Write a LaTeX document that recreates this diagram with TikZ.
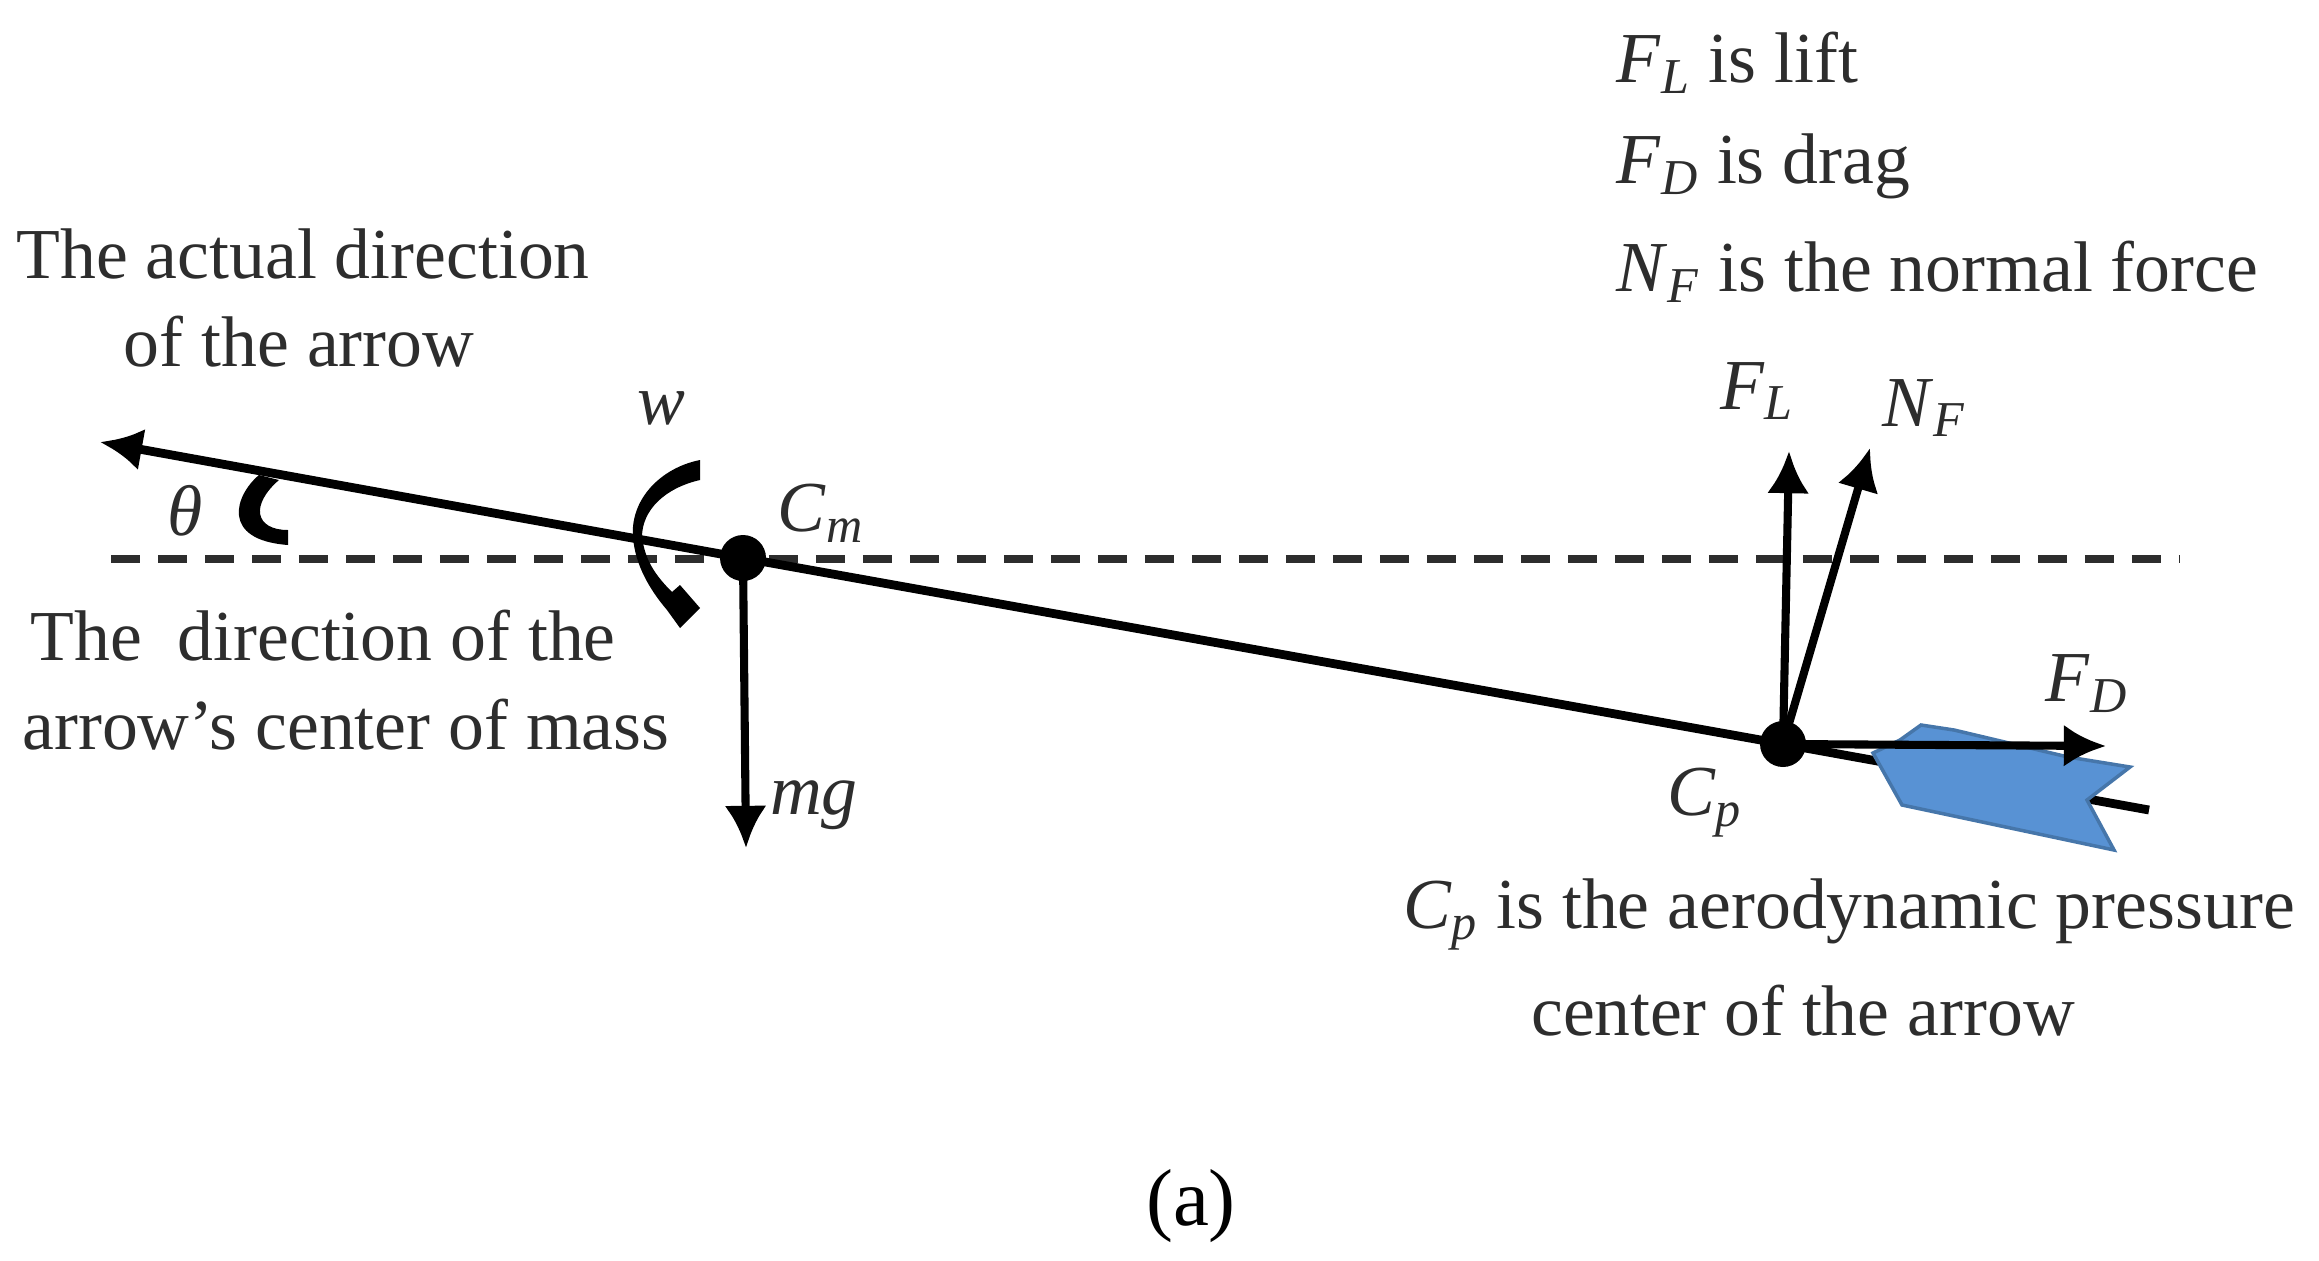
\documentclass[tikz,border=0pt]{standalone}
\usepackage{fontspec}
\setmainfont{Liberation Serif}
\usetikzlibrary{arrows.meta}
\definecolor{fletchblue}{RGB}{88, 146, 212}
\definecolor{fletchedge}{RGB}{70, 118, 170}
\definecolor{inkgray}{RGB}{45, 45, 45}
\newcommand{\symb}[2]{\textit{#1}\textsubscript{\textit{#2}}}
\tikzset{
    label text/.style={text=inkgray, font=\fontsize{20.4}{24}\selectfont, inner sep=0pt},
    force line/.style={line width=2.3pt, -{Latex[length=12pt, width=12pt]}},
    shaft line/.style={line width=2.5pt},
    apply point/.style={circle, fill=black, minimum size=0.46cm, inner sep=0pt}
}
\begin{document}
\begin{tikzpicture}
    \useasboundingbox (0,0) rectangle (23.19,12.60);
    \coordinate (tip)  at ( 1.00, 8.18);
    \coordinate (tail) at (21.49, 4.50);
    \coordinate (dashL) at ( 1.11, 7.01);
    \coordinate (dashR) at (21.80, 7.01);
    \coordinate (mgEnd) at ( 7.46, 4.12);
    \coordinate (flEnd) at (17.89, 8.09);
    \coordinate (nfEnd) at (18.70, 8.12);
    \coordinate (fdEnd) at (21.06, 5.14);

    \draw[color=inkgray, line width=2pt, dash pattern=on 0.29cm off 0.18cm] (dashL) -- (dashR);

    \node[apply point] (cm) at ( 7.43, 7.02) {};
    \node[apply point] (cp) at (17.83, 5.16) {};

    \draw[shaft line, -{Latex[length=12pt, width=12pt]}] (cm.center) -- (tip);
    \draw[shaft line] (cp.center) -- (cm.center);
    \draw[shaft line] (cp.center) -- (tail);

    % fletching
    \filldraw[color=fletchedge, fill=fletchblue, line width=1pt]
        (18.73, 5.07) -- (19.02, 4.55) -- (21.14, 4.10) -- (20.87, 4.60) -- (21.30, 4.93) -- (20.68, 5.03)
        -- (19.54, 5.30) -- (19.21, 5.35) -- (19.00, 5.20) -- cycle;

    \draw[force line] (cm.center) -- (mgEnd);
    \draw[force line] (cp.center) -- (flEnd);
    \draw[force line] (cp.center) -- (nfEnd);
    \draw[force line] (cp.center) -- (fdEnd);

    % moment w
    \fill[black] (7.00, 8.00) .. controls (6.60, 7.92) and (6.30, 7.60) .. (6.33, 7.23)
        .. controls (6.35, 6.95) and (6.50, 6.70) .. (6.67, 6.50)
        -- (6.80, 6.32) -- (7.00, 6.52) -- (6.80, 6.75) -- (6.72, 6.68)
        .. controls (6.55, 6.85) and (6.45, 7.00) .. (6.42, 7.23)
        .. controls (6.42, 7.50) and (6.65, 7.72) .. (7.00, 7.80) -- cycle;
    % angle theta
    \fill[black] (2.59, 7.85) .. controls (2.35, 7.65) and (2.20, 7.20) .. (2.88, 7.15)
        -- (2.88, 7.30) .. controls (2.55, 7.30) and (2.50, 7.55) .. (2.79, 7.80) -- cycle;

    \node[label text] (actualA) at ( 3.03,10.06) {The actual direction};
    \node[label text] (actualB) at ( 2.99, 9.18) {of the arrow};
    \node[label text] (massA)   at ( 3.23, 6.24) {The\ \ direction of the};
    \node[label text] (massB)   at ( 3.46, 5.35) {arrow{\char"27}s center of mass};
    \node[label text] (wLabel)  at ( 6.61, 8.52) {\textit{w}};
    \node[label text] (thLabel) at ( 1.85, 7.49) {\textit{θ}};
    \node[label text] (cmLabel) at ( 8.21, 7.47) {\symb{C}{m}};
    \node[label text] (mgLabel) at ( 8.14, 4.55) {\textit{mg}};
    \node[label text] (flLabel) at (17.57, 8.69) {\symb{F}{L}};
    \node[label text] (nfLabel) at (19.24, 8.52) {\symb{N}{F}};
    \node[label text] (fdLabel) at (20.87, 5.76) {\symb{F}{D}};
    \node[label text] (cpLabel) at (17.05, 4.57) {\symb{C}{p}};

    \node[label text, anchor=west] (topA) at (16.16,11.97) {\symb{F}{L} is lift};
    \node[label text, anchor=west] (topB) at (16.16,10.94) {\symb{F}{D} is drag};
    \node[label text, anchor=west] (topC) at (16.16, 9.88) {\symb{N}{F} is the normal force};
    \node[label text] (presA) at (18.49, 3.46) {\symb{C}{p} is the aerodynamic pressure};
    \node[label text] (presB) at (18.03, 2.49) {center of the arrow};
    \node[text=black, font=\fontsize{23}{27}\selectfont, inner sep=0pt] (caption) at (11.91, 0.54) {(a)};
\end{tikzpicture}
\end{document}
